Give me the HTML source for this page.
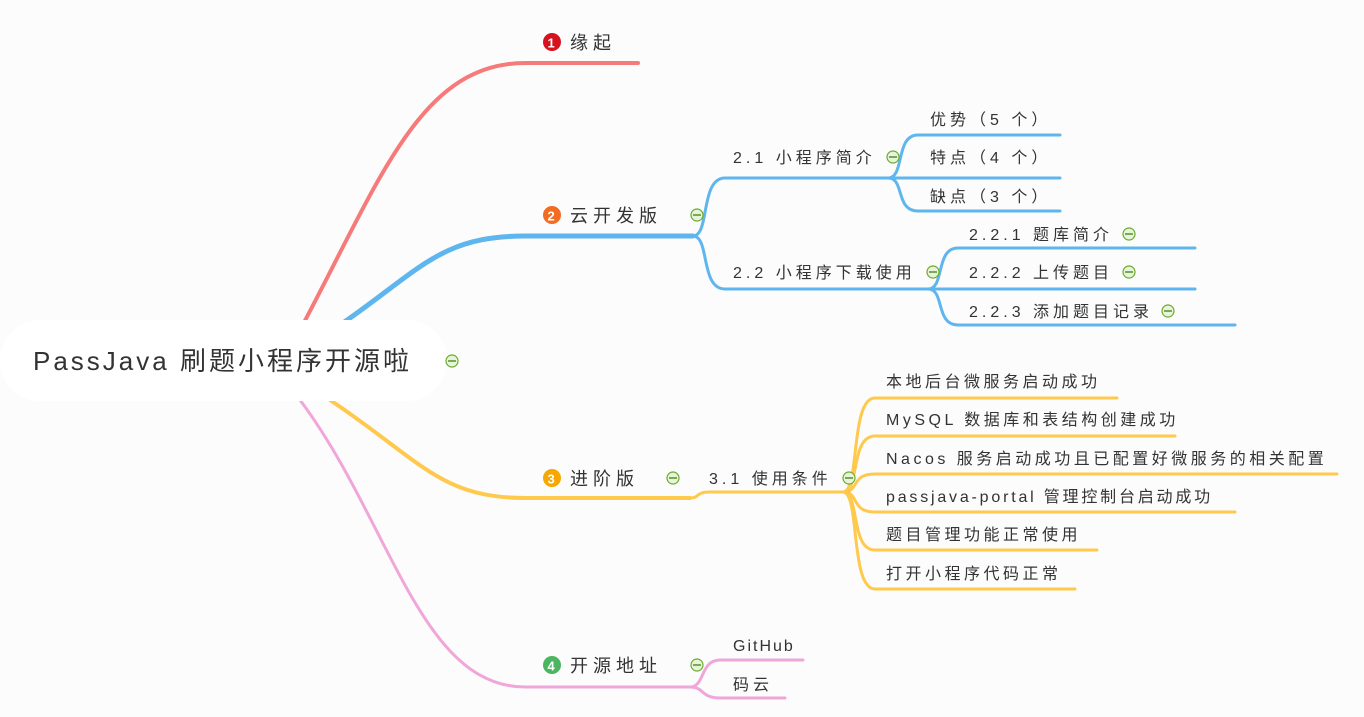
<!DOCTYPE html>
<html><head><meta charset="utf-8"><style>
html,body{margin:0;padding:0;background:#fcfcfc;}
svg{display:block}
text{font-family:"Liberation Sans","Noto Sans CJK SC",sans-serif;fill:#333;font-size:16px;letter-spacing:4px}
.m{font-size:18px;letter-spacing:5px}
.c{letter-spacing:3.5px}
</style></head><body>
<svg width="1364" height="717" viewBox="0 0 1364 717" xmlns="http://www.w3.org/2000/svg">
<g fill="none" stroke-linecap="round">
<path d="M300 330 C380 180 420 63 525 63 H638" stroke="#f77a7a" stroke-width="4"/>
<path d="M340 325 C420 270 440 236 525 236 H693" stroke="#5fb6ee" stroke-width="5"/>
<g stroke="#5fb6ee" stroke-width="3">
<path d="M693 236 C710 236 700 178 725 178 H890"/>
<path d="M693 236 C710 236 700 289 725 289 H930"/>
<path d="M888 178 C905 178 895 135 918 135 H1060"/>
<path d="M888 178 H1060"/>
<path d="M888 178 C905 178 895 211 918 211 H1060" />
<path d="M928 289 C945 289 935 248 958 248 H1195"/>
<path d="M928 289 H1195"/>
<path d="M928 289 C945 289 935 325 958 325 H1235"/>
</g>
<path d="M330 400 C420 460 440 498 525 498 H690" stroke="#ffc94d" stroke-width="4"/>
<g stroke="#ffc94d" stroke-width="3">
<path d="M690 498 C700 498 695 492 710 492 H845"/>
<path d="M843 492 C860 492 850 398 875 398 H1117"/>
<path d="M843 492 C860 492 850 436 875 436 H1175"/>
<path d="M843 492 C860 492 850 474 875 474 H1337"/>
<path d="M843 492 C860 492 850 512 875 512 H1235"/>
<path d="M843 492 C860 492 850 550 875 550 H1097"/>
<path d="M843 492 C860 492 850 589 875 589 H1075"/>
</g>
<path d="M300 400 C390 520 420 687 525 687 H690" stroke="#f0a6d9" stroke-width="3"/>
<g stroke="#f0a6d9" stroke-width="3">
<path d="M690 687 C705 687 700 660 720 660 H803"/>
<path d="M690 687 C705 687 700 698 720 698 H785"/>
</g>
</g>
<rect x="0" y="320" width="447" height="81" rx="40" fill="#fff"/>
<text x="33" y="370" style="font-size:26px;letter-spacing:3px">PassJava 刷题小程序开源啦</text>
<g fill="#e8f4d8" stroke="#6aab2e" stroke-width="1.2">
<circle cx="452" cy="361" r="6"/><circle cx="697" cy="215" r="6"/><circle cx="893" cy="157" r="6"/>
<circle cx="933" cy="272" r="6"/><circle cx="1129" cy="234" r="6"/><circle cx="1129" cy="272" r="6"/>
<circle cx="1168" cy="311" r="6"/><circle cx="673" cy="478" r="6"/><circle cx="849" cy="478" r="6"/>
<circle cx="697" cy="665" r="6"/>
</g>
<g stroke="#3a7a10" stroke-width="1.3">
<path d="M448 361h8M693 215h8M889 157h8M929 272h8M1125 234h8M1125 272h8M1164 311h8M669 478h8M845 478h8M693 665h8"/>
</g>
<circle cx="552" cy="42" r="9" fill="#d6121f"/><text x="547.5" y="47.5" style="fill:#fff;font-size:13px;font-weight:bold;letter-spacing:0">1</text>
<circle cx="552" cy="215" r="9" fill="#f26c22"/><text x="547.5" y="220.5" style="fill:#fff;font-size:13px;font-weight:bold;letter-spacing:0">2</text>
<circle cx="552" cy="478" r="9" fill="#f6a800"/><text x="547.5" y="483.5" style="fill:#fff;font-size:13px;font-weight:bold;letter-spacing:0">3</text>
<circle cx="552" cy="665" r="9" fill="#4cb560"/><text x="547.5" y="670.5" style="fill:#fff;font-size:13px;font-weight:bold;letter-spacing:0">4</text>
<text class="m" x="570" y="49">缘起</text>
<text class="m" x="570" y="222">云开发版</text>
<text class="m" x="570" y="485">进阶版</text>
<text class="m" x="570" y="672">开源地址</text>
<text x="733" y="163">2.1 小程序简介</text>
<text x="733" y="278">2.2 小程序下载使用</text>
<text x="930" y="125">优势（5 个）</text>
<text x="930" y="163">特点（4 个）</text>
<text x="930" y="202">缺点（3 个）</text>
<text x="969" y="240">2.2.1 题库简介</text>
<text x="969" y="278">2.2.2 上传题目</text>
<text x="969" y="317">2.2.3 添加题目记录</text>
<text x="709" y="484">3.1 使用条件</text>
<text class="c" x="886" y="387">本地后台微服务启动成功</text>
<text class="c" x="886" y="425">MySQL 数据库和表结构创建成功</text>
<text class="c" x="886" y="464">Nacos 服务启动成功且已配置好微服务的相关配置</text>
<text class="c" x="886" y="502" style="letter-spacing:2.8px">passjava-portal 管理控制台启动成功</text>
<text class="c" x="886" y="540">题目管理功能正常使用</text>
<text class="c" x="886" y="579">打开小程序代码正常</text>
<text x="733" y="651" style="letter-spacing:2px">GitHub</text>
<text x="733" y="690">码云</text>
</svg>
</body></html>
